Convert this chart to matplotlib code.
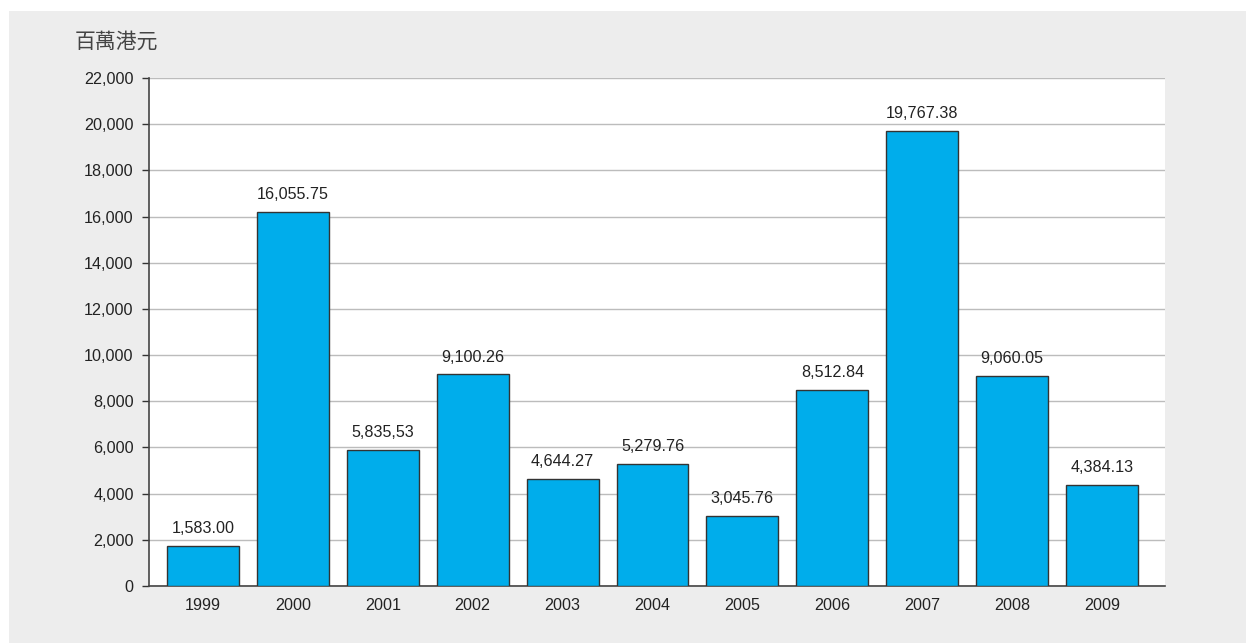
import matplotlib
matplotlib.use("Agg")
import matplotlib.pyplot as plt
from matplotlib.patches import Rectangle
from matplotlib.ticker import FuncFormatter, MultipleLocator
from matplotlib import font_manager as fm

years = ["1999", "2000", "2001", "2002", "2003", "2004", "2005", "2006", "2007", "2008", "2009"]
values = [1730, 16190, 5890, 9170, 4630, 5280, 3030, 8490, 19710, 9095, 4375]
value_labels = ["1,583.00", "16,055.75", "5,835,53", "9,100.26", "4,644.27", "5,279.76",
                "3,045.76", "8,512.84", "19,767.38", "9,060.05", "4,384.13"]
unit_label = "百萬港元"

font_path = None
for f in fm.findSystemFonts():
    if f.endswith("LiberationSans-Regular.ttf"):
        font_path = f
        break
if font_path:
    fm.fontManager.addfont(font_path)
    fp = fm.FontProperties(fname=font_path, size=11.6)
else:
    fp = fm.FontProperties(family="DejaVu Sans", size=10.8)

W, H = 1246, 643
fig = plt.figure(figsize=(W / 100, H / 100), dpi=100)
fig.patch.set_facecolor("white")
fig.patches.append(Rectangle((9 / W, 0), 1, 1 - 11 / H, transform=fig.transFigure,
                             facecolor="#ededed", edgecolor="none", zorder=-10))

ax = fig.add_axes([149 / W, 1 - 586 / H, (1165 - 149) / W, (586 - 78) / H])
ax.set_facecolor("white")

x = list(range(len(years)))
ax.bar(x, values, width=0.8, color="#00adeb", edgecolor="#333333", linewidth=1.0, zorder=3)

for xi, v, lab in zip(x, values, value_labels):
    ax.annotate(lab, (xi, v), xytext=(0, 7), textcoords="offset points",
                ha="center", va="bottom", color="#222222", fontproperties=fp)

ax.set_xlim(-0.6, 10.7)
ax.set_ylim(0, 22000)
ax.yaxis.set_major_locator(MultipleLocator(2000))
ax.yaxis.set_major_formatter(FuncFormatter(lambda v, p: f"{int(v):,}"))
ax.grid(axis="y", color="#bcbcbc", linewidth=1.0, zorder=0)
ax.set_axisbelow(True)

ax.set_xticks(x)
ax.set_xticklabels(years)
ax.tick_params(axis="x", length=0, pad=9, labelcolor="#222222")
ax.tick_params(axis="y", length=5, width=1, color="#333333", pad=6, labelcolor="#222222")
for lab in ax.get_xticklabels() + ax.get_yticklabels():
    lab.set_fontproperties(fp)

for s in ["top", "right"]:
    ax.spines[s].set_visible(False)
for s in ["left", "bottom"]:
    ax.spines[s].set_color("#444444")
    ax.spines[s].set_linewidth(1.2)

fig.text(75 / W, 1 - 42 / H, unit_label, ha="left", va="center", fontsize=15,
         color="#444444", family=["Noto Sans CJK TC", "DejaVu Sans"])

fig.savefig("out.png", dpi=100, facecolor=fig.get_facecolor())
